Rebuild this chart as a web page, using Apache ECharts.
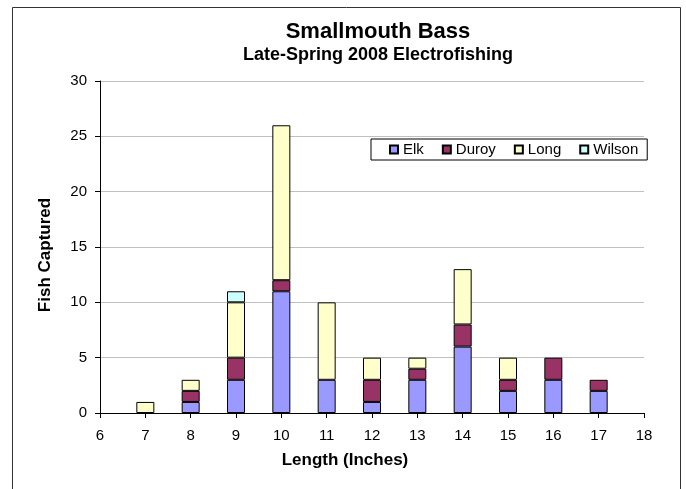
<!DOCTYPE html>
<html>
<head>
<meta charset="utf-8">
<script src="https://cdn.jsdelivr.net/npm/echarts@6/dist/echarts.min.js"></script>
<style>
html,body{margin:0;padding:0;background:#fff;}
#chart{width:686px;height:489px;}
</style>
</head>
<body>
<div id="chart"></div>
<script>
var lengths = [7, 8, 9, 10, 11, 12, 13, 14, 15, 16, 17];
var elk    = [0, 1, 3, 11, 3, 1, 3, 6, 2, 3, 2];
var duroy  = [0, 1, 2, 1, 0, 2, 1, 2, 1, 2, 1];
var longR  = [1, 1, 5, 14, 7, 2, 1, 5, 2, 0, 0];
var wilson = [0, 0, 1, 0, 0, 0, 0, 0, 0, 0, 0];
var seriesNames = ['Elk', 'Duroy', 'Long', 'Wilson'];
var seriesColors = ['#9999FF', '#993366', '#FFFFCC', '#CCFFFF'];
var yTicks = [0, 5, 10, 15, 20, 25, 30];
var xTicks = [6, 7, 8, 9, 10, 11, 12, 13, 14, 15, 16, 17, 18];

var FONT = 'Liberation Sans, Arial, sans-serif';

function items(vals) {
  return xTicks.map(function (x) {
    var i = lengths.indexOf(x);
    if (i < 0) { return {value: 0, itemStyle: {borderWidth: 0, opacity: 0}}; }
    var it = {value: vals[i]};
    if (vals[i] === 0) { it.itemStyle = {borderWidth: 0, opacity: 0}; }
    return it;
  });
}
var allVals = [elk, duroy, longR, wilson];

var chart = echarts.init(document.getElementById('chart'), null, {renderer: 'canvas'});
var option = {
  backgroundColor: '#fff',
  animation: false,
  textStyle: {fontFamily: FONT},
  title: {
    text: 'Smallmouth Bass',
    subtext: 'Late-Spring 2008 Electrofishing',
    left: 378,
    top: 21,
    textAlign: 'center',
    padding: 0,
    itemGap: 3,
    textStyle: {fontFamily: FONT, fontSize: 22, fontWeight: 'bold', color: '#000'},
    subtextStyle: {fontFamily: FONT, fontSize: 18, fontWeight: 'bold', color: '#000'}
  },
  legend: {
    data: seriesNames,
    left: 371,
    top: 139,
    padding: [3, 9, 3, 18],
    itemGap: 18,
    itemWidth: 8,
    itemHeight: 8,
    icon: 'rect',
    borderColor: '#000',
    borderWidth: 1,
    textStyle: {fontFamily: FONT, fontSize: 15, color: '#000'}
  },
  grid: {left: 100, right: 42, top: 81, bottom: 76, containLabel: false},
  xAxis: {
    type: 'category',
    data: xTicks.map(String),
    boundaryGap: false,
    name: 'Length (Inches)',
    nameLocation: 'middle',
    nameGap: 39,
    nameTextStyle: {fontFamily: FONT, fontSize: 17, fontWeight: 'bold', color: '#000', padding: [0, 54, 0, 0]},
    axisLine: {show: true, onZero: false, lineStyle: {color: '#000', width: 1}},
    axisTick: {show: true, length: 5, interval: 0, lineStyle: {color: '#000'}},
    axisLabel: {fontFamily: FONT, fontSize: 15, color: '#000', margin: 15, interval: 0},
    splitLine: {show: false}
  },
  yAxis: {
    type: 'value',
    min: yTicks[0],
    max: yTicks[yTicks.length - 1],
    interval: 5,
    name: 'Fish Captured',
    nameLocation: 'middle',
    nameGap: 46,
    nameTextStyle: {fontFamily: FONT, fontSize: 17, fontWeight: 'bold', color: '#000', padding: [0, 16, 0, 0]},
    axisLine: {show: true, lineStyle: {color: '#000', width: 1}},
    axisTick: {show: true, length: 5, lineStyle: {color: '#000'}},
    axisLabel: {fontFamily: FONT, fontSize: 15, color: '#000', margin: 13},
    splitLine: {show: true, lineStyle: {color: '#c0c0c0', width: 1}}
  },
  graphic: [{
    type: 'rect',
    shape: {x: 12.5, y: 7.5, width: 668, height: 520},
    style: {fill: 'none', stroke: '#333', lineWidth: 1},
    silent: true,
    z: 100
  }],
  series: seriesNames.map(function (name, k) {
    return {
      name: name,
      type: 'bar',
      stack: 'total',
      barWidth: 18,
      data: items(allVals[k]),
      itemStyle: {color: seriesColors[k], borderColor: '#000', borderWidth: 1}
    };
  })
};
chart.setOption(option);
</script>
</body>
</html>
